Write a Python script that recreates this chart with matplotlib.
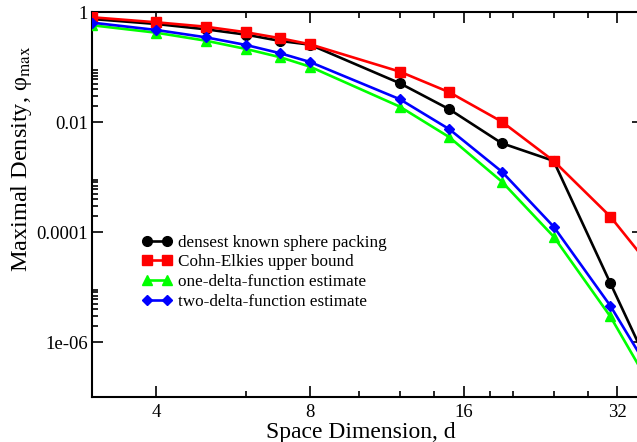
import matplotlib
matplotlib.use("Agg")
import matplotlib.pyplot as plt
from matplotlib.ticker import FixedLocator, FixedFormatter, NullFormatter

plt.rcParams['font.family'] = ['Liberation Serif', 'DejaVu Serif']
plt.rcParams['mathtext.fontset'] = 'stix'

# data
dims = [3, 4, 5, 6, 7, 8, 12, 15, 19, 24, 31, 36]
known = [0.755, 0.613, 0.491, 0.392, 0.301, 0.258, 0.0512, 0.0172, 0.00415, 0.00198, 1.18e-5, 6.0e-7]
cohn_elkies = [0.811, 0.658, 0.547, 0.433, 0.337, 0.262, 0.0832, 0.0351, 0.01025, 0.00198, 1.92e-4, 3.4e-5]
one_delta = [0.580, 0.4256, 0.3046, 0.215, 0.152, 0.1026, 0.0192, 0.00534, 8.32e-4, 8.32e-5, 2.92e-6, 2.65e-7]
two_delta = [0.647, 0.477, 0.351, 0.254, 0.1797, 0.1249, 0.0262, 0.00746, 0.001264, 1.264e-4, 4.57e-6, 4.6e-7]

labels = ["densest known sphere packing", "Cohn-Elkies upper bound",
          "one-delta-function estimate", "two-delta-function estimate"]

x_major = [4, 8, 16, 32]
x_minor = [6, 10, 12, 14, 18, 20, 24, 28]
y_major = [1, 1e-2, 1e-4, 1e-6]
y_major_labels = ["1", "0.01", "0.0001", "1e-06"]
y_minor = [k * 10.0 ** e for e in (-2, -4, -6) for k in range(2, 10)]

fig = plt.figure(figsize=(6.37, 4.42), dpi=100)
ax = fig.add_axes([0.1449, 0.1018, 0.8653, 0.8704])
ax.set_xscale('log')
ax.set_yscale('log')

lw = 1.9
ax.plot(dims, known, '-o', color='black', lw=lw, ms=7, label=labels[0], zorder=3)
ax.plot(dims, cohn_elkies, '-s', color='#ff0000', lw=lw, ms=6.5, label=labels[1], zorder=4)
ax.plot(dims, one_delta, '-^', color='#00ff00', lw=lw, ms=7.5, label=labels[2], zorder=3)
ax.plot(dims, two_delta, '-D', color='#0000ff', lw=lw, ms=5.5, label=labels[3], zorder=4)

ax.set_xlim(3, 36)
ax.set_ylim(1e-7, 1)

ax.xaxis.set_major_locator(FixedLocator(x_major))
ax.xaxis.set_major_formatter(FixedFormatter([str(v) for v in x_major]))
ax.xaxis.set_minor_locator(FixedLocator(x_minor))
ax.xaxis.set_minor_formatter(NullFormatter())
ax.yaxis.set_major_locator(FixedLocator(y_major))
ax.yaxis.set_major_formatter(FixedFormatter(y_major_labels))
ax.yaxis.set_minor_locator(FixedLocator(y_minor))
ax.yaxis.set_minor_formatter(NullFormatter())

ax.tick_params(which='both', direction='in', top=True, right=True, width=1.2, labelsize=13.5)
ax.tick_params(which='major', length=8, pad=3)
ax.tick_params(axis='x', which='major', pad=5)
ax.tick_params(which='minor', length=4)
for s in ax.spines.values():
    s.set_linewidth(1.5)

ax.set_xlabel("Space Dimension, d", fontsize=17)
ax.xaxis.set_label_coords(0.487, -0.065)
ax.set_ylabel("Maximal Density, φ$_{\\rm max}$", fontsize=17.5)
ax.yaxis.set_label_coords(-0.105, 0.62)

leg = ax.legend(loc='upper left', bbox_to_anchor=(0.078, 0.44), frameon=False,
                fontsize=12.3, handlelength=1.75, handletextpad=0.35, labelspacing=0.22,
                borderaxespad=0, numpoints=2)

fig.savefig("out.png", dpi=100)
